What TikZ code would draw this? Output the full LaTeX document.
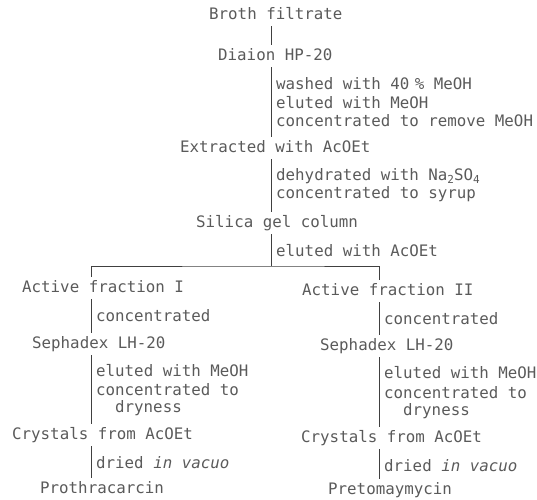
\documentclass[tikz,border=0pt]{standalone}
\usepackage{fontspec}
\setmonofont{DejaVu Sans Mono}
\definecolor{txt}{HTML}{5A5A5A}
\definecolor{ln}{HTML}{404040}
\newcommand{\subnum}[1]{\raisebox{-0.35ex}{\fontsize{11}{11}\selectfont #1}}
\begin{document}
\begin{tikzpicture}[x=1pt,y=-1pt,
  every node/.style={font=\ttfamily\fontsize{15.8}{19}\selectfont, text=txt, inner xsep=0pt, inner ysep=4pt, text height=11pt, text depth=3pt, anchor=base west},
  lbl/.style={},
  conn/.style={draw=ln, line width=0.9pt}]
\useasboundingbox (0,0) rectangle (537,499);
% spine coordinates
\coordinate (cx) at (271,0);
\coordinate (lx) at (91,0);
\coordinate (rx) at (379,0);
\coordinate (split) at (271,266);
% main column
\node (broth) at (209,19) {Broth filtrate};
\node (diaion) at (218,60) {Diaion HP-20};
\node[lbl] (l1a) at (276,89) {washed with 40\hspace{0.35em}\% MeOH};
\node[lbl] (l1b) at (276,108) {eluted with MeOH};
\node[lbl] (l1c) at (276,126) {concentrated to remove MeOH};
\node (extr) at (180,152) {Extracted with AcOEt};
\node[lbl] (l2a) at (276,180) {dehydrated with Na\subnum{2}SO\subnum{4}};
\node[lbl] (l2b) at (276,198) {concentrated to syrup};
\node (silica) at (196,227) {Silica gel column};
\node[lbl] (l3) at (276,256) {eluted with AcOEt};
% left branch
\node (afI) at (22,292) {Active fraction I};
\node[lbl] (l4) at (96,321) {concentrated};
\node (sephI) at (32,348) {Sephadex LH-20};
\node[lbl] (l5a) at (96,376) {eluted with MeOH};
\node[lbl] (l5b) at (96,395) {concentrated to};
\node[lbl] (l5c) at (115,412) {dryness};
\node (crysI) at (12,439) {Crystals from AcOEt};
\node[lbl] (l6) at (96,468) {dried \textit{in vacuo}};
\node (proth) at (40,493) {Prothracarcin};
% right branch
\node (afII) at (302,295) {Active fraction II};
\node[lbl] (r4) at (384,324) {concentrated};
\node (sephII) at (320,350) {Sephadex LH-20};
\node[lbl] (r5a) at (384,378) {eluted with MeOH};
\node[lbl] (r5b) at (384,398) {concentrated to};
\node[lbl] (r5c) at (403,415) {dryness};
\node (crysII) at (301,442) {Crystals from AcOEt};
\node[lbl] (r6) at (384,471) {dried \textit{in vacuo}};
\node (pret) at (328,494.5) {Pretomaymycin};
% connectors
\draw[conn] (broth.south -| cx) -- (diaion.north -| cx);
\draw[conn] (diaion.south -| cx) -- (extr.north -| cx);
\draw[conn] (extr.south -| cx) -- (silica.north -| cx);
\draw[conn] (silica.south -| cx) -- (split);
\draw[conn] (afI.north -| lx) |- (split) -| (afII.north -| rx);
\draw[conn] (afI.south -| lx) -- (sephI.north -| lx);
\draw[conn] (sephI.south -| lx) -- (crysI.north -| lx);
\draw[conn] (crysI.south -| lx) -- (proth.north -| lx);
\draw[conn] (afII.south -| rx) -- (sephII.north -| rx);
\draw[conn] (sephII.south -| rx) -- (crysII.north -| rx);
\draw[conn] (crysII.south -| rx) -- (pret.north -| rx);
\end{tikzpicture}
\end{document}
